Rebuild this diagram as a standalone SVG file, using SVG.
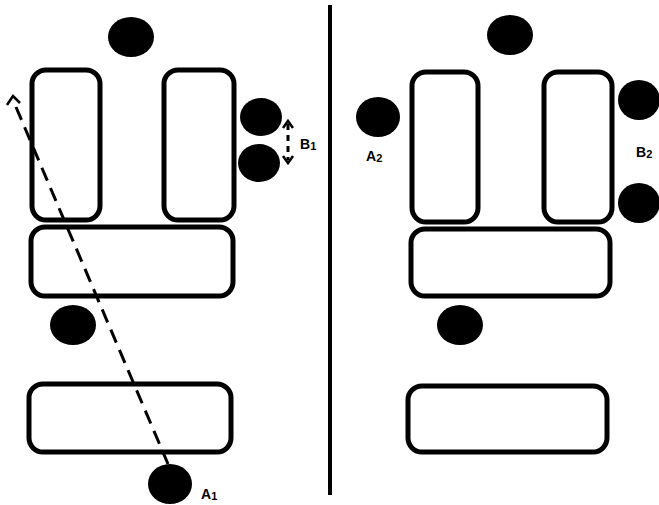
<svg xmlns="http://www.w3.org/2000/svg" width="659" height="505" viewBox="0 0 659 505">
<style>
.box{fill:#fff;stroke:#000;stroke-width:5}
.dot{fill:#000}
.lbl{font-family:"Liberation Sans",Arial,sans-serif;font-weight:bold;font-size:14px;fill:#000}
.sub{font-size:11px}
.dash{fill:none;stroke:#000;stroke-width:3;stroke-dasharray:14,8}
.dash-s{fill:none;stroke:#000;stroke-width:3;stroke-dasharray:6,5}
.head{fill:none;stroke:#000;stroke-width:2.5}
</style>
<rect width="659" height="505" fill="#fff"/>
<g id="divider"><line x1="330" y1="5" x2="330" y2="495" stroke="#000" stroke-width="4"/></g>
<g id="left">
  <g id="L-top-dot"><ellipse class="dot" cx="131" cy="37" rx="23" ry="20"/></g>
  <g id="L-seat1"><rect class="box" x="32" y="70" width="68" height="150" rx="14"/></g>
  <g id="L-seat2"><rect class="box" x="164" y="70" width="70" height="150" rx="14"/></g>
  <g id="L-bench1"><rect class="box" x="31" y="227" width="202" height="69" rx="14"/></g>
  <g id="L-mid-dot"><ellipse class="dot" cx="73" cy="325" rx="23" ry="20"/></g>
  <g id="L-bench2"><rect class="box" x="29" y="384" width="202" height="68" rx="14"/></g>
  <g id="L-B-dot1"><ellipse class="dot" cx="261" cy="117" rx="21" ry="19"/></g>
  <g id="L-B-dot2"><ellipse class="dot" cx="259" cy="163" rx="21" ry="19"/></g>
  <g id="L-A1"><ellipse class="dot" cx="170" cy="484" rx="22" ry="20"/>
    <text class="lbl" x="201" y="499">A<tspan class="sub" dy="1">1</tspan></text></g>
  <g id="L-B1-label"><text class="lbl" x="300" y="149">B<tspan class="sub" dy="1">1</tspan></text></g>
</g>
<g id="connectors">
  <line class="dash" x1="168" y1="464" x2="13" y2="100"/>
  <polyline class="head" points="7,105 13,96 20,103"/>
  <line class="dash-s" x1="288" y1="124" x2="288" y2="160"/>
  <polyline class="head" points="283,128 288,121 293,128"/>
  <polyline class="head" points="283,156 288,163 293,156"/>
</g>
<g id="right">
  <g id="R-top-dot"><ellipse class="dot" cx="510" cy="35" rx="23" ry="20"/></g>
  <g id="R-seat1"><rect class="box" x="412" y="72" width="66" height="150" rx="14"/></g>
  <g id="R-seat2"><rect class="box" x="544" y="72" width="68" height="150" rx="14"/></g>
  <g id="R-bench1"><rect class="box" x="411" y="229" width="199" height="67" rx="14"/></g>
  <g id="R-mid-dot"><ellipse class="dot" cx="460" cy="325" rx="23" ry="20"/></g>
  <g id="R-bench2"><rect class="box" x="408" y="386" width="199" height="66" rx="14"/></g>
  <g id="R-A2"><ellipse class="dot" cx="378" cy="117" rx="22" ry="20"/>
    <text class="lbl" x="366" y="161">A<tspan class="sub" dy="1">2</tspan></text></g>
  <g id="R-B-dot1"><ellipse class="dot" cx="639" cy="100" rx="21" ry="20"/></g>
  <g id="R-B-dot2"><ellipse class="dot" cx="639" cy="203" rx="21" ry="20"/></g>
  <g id="R-B2-label"><text class="lbl" x="636" y="157">B<tspan class="sub" dy="1">2</tspan></text></g>
</g>
</svg>
